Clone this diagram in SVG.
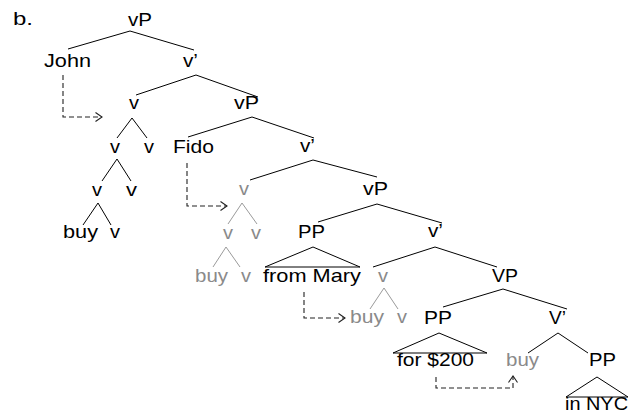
<svg xmlns="http://www.w3.org/2000/svg" width="632" height="413" viewBox="0 0 632 413">
<defs>
<style>
text{font-family:"Liberation Sans",Arial,sans-serif;font-size:18.5px;fill:#000}
text.g{fill:#8a8a8a}
.e{stroke:#000;stroke-width:1;fill:none}
.eg{stroke:#9a9a9a;stroke-width:1;fill:none}
.mv{stroke:#222;stroke-width:1.1;fill:none;stroke-dasharray:5,3;marker-end:url(#ah)}
</style>
<marker id="ah" markerUnits="userSpaceOnUse" markerWidth="9" markerHeight="11" refX="7" refY="5" orient="auto">
<path d="M0.5,0.5 L7,5 L0.5,9.5" fill="none" stroke="#222" stroke-width="1.1"/>
</marker>
</defs>
<rect width="632" height="413" fill="#fff"/>
<g id="connectors">
<path class="e" d="M130,31 L68,49 M130,31 L194,50"/>
<path class="e" d="M196,75 L136,95 M196,75 L258,97"/>
<path class="e" d="M252,117 L188,137 M252,117 L314,138"/>
<path class="e" d="M132,118 L117,138 M132,118 L147,138"/>
<path class="e" d="M117,159 L102,181 M117,159 L131,181"/>
<path class="e" d="M98,203 L83,225 M98,203 L111,225"/>
<path class="e" d="M313,160 L250,180 M313,160 L377,177"/>
<path class="e" d="M377,204 L318,222 M377,204 L442,223"/>
<path class="e" d="M313,247 L265,267 L360,267 Z"/>
<path class="e" d="M435,247 L373,267 M435,247 L497,267"/>
<path class="e" d="M503,289 L443,307 M503,289 L567,309"/>
<path class="e" d="M439,333 L393,353 L487,353 Z"/>
<path class="e" d="M558,333 L528,353 M558,333 L588,353"/>
<path class="e" d="M597,377 L566,397 L628,397 Z"/>
<path class="eg" d="M242,203 L228,224 M242,203 L257,224"/>
<path class="eg" d="M226,247 L213,267 M226,247 L240,267"/>
<path class="eg" d="M384,288 L370,309 M384,288 L398,309"/>
<path class="mv" d="M63,75 V117 H102"/>
<path class="mv" d="M187,163 V206 H227"/>
<path class="mv" d="M304,292 V318 H345"/>
<path class="mv" d="M436,377 V388 H513 V376"/>
</g>
<g id="label-b"><text x="13" y="25" textLength="20" lengthAdjust="spacingAndGlyphs">b.</text></g>
<g id="vP1"><text x="128" y="26" textLength="24" lengthAdjust="spacingAndGlyphs">vP</text></g>
<g id="John"><text x="44" y="67" textLength="47" lengthAdjust="spacingAndGlyphs">John</text></g>
<g id="vbar1"><text x="183" y="67" textLength="15" lengthAdjust="spacingAndGlyphs">v’</text></g>
<g id="v1"><text x="129" y="109" textLength="10" lengthAdjust="spacingAndGlyphs">v</text></g>
<g id="vP2"><text x="234" y="109" textLength="25" lengthAdjust="spacingAndGlyphs">vP</text></g>
<g id="v1a"><text x="110" y="153" textLength="10" lengthAdjust="spacingAndGlyphs">v</text></g>
<g id="v1b"><text x="144" y="153" textLength="10" lengthAdjust="spacingAndGlyphs">v</text></g>
<g id="Fido"><text x="173" y="153" textLength="41" lengthAdjust="spacingAndGlyphs">Fido</text></g>
<g id="vbar2"><text x="300" y="152" textLength="15" lengthAdjust="spacingAndGlyphs">v’</text></g>
<g id="v1c"><text x="92" y="196" textLength="10" lengthAdjust="spacingAndGlyphs">v</text></g>
<g id="v1d"><text x="126" y="196" textLength="11" lengthAdjust="spacingAndGlyphs">v</text></g>
<g id="v2"><text class="g" x="239" y="195" textLength="10" lengthAdjust="spacingAndGlyphs">v</text></g>
<g id="vP3"><text x="363" y="195" textLength="25" lengthAdjust="spacingAndGlyphs">vP</text></g>
<g id="buy1"><text x="63" y="238" textLength="35" lengthAdjust="spacingAndGlyphs">buy</text></g>
<g id="v1e"><text x="110" y="238" textLength="10" lengthAdjust="spacingAndGlyphs">v</text></g>
<g id="v2a"><text class="g" x="223" y="239" textLength="10" lengthAdjust="spacingAndGlyphs">v</text></g>
<g id="v2b"><text class="g" x="251" y="239" textLength="10" lengthAdjust="spacingAndGlyphs">v</text></g>
<g id="PP1"><text x="298" y="238" textLength="27" lengthAdjust="spacingAndGlyphs">PP</text></g>
<g id="vbar3"><text x="428" y="237" textLength="15" lengthAdjust="spacingAndGlyphs">v’</text></g>
<g id="buy2"><text class="g" x="195" y="282" textLength="33" lengthAdjust="spacingAndGlyphs">buy</text></g>
<g id="v2c"><text class="g" x="241" y="282" textLength="10" lengthAdjust="spacingAndGlyphs">v</text></g>
<g id="fromMary"><text x="263" y="282" textLength="98" lengthAdjust="spacingAndGlyphs">from Mary</text></g>
<g id="v3"><text class="g" x="378" y="282" textLength="10" lengthAdjust="spacingAndGlyphs">v</text></g>
<g id="VP"><text x="492" y="282" textLength="26" lengthAdjust="spacingAndGlyphs">VP</text></g>
<g id="buy3"><text class="g" x="350" y="323" textLength="34" lengthAdjust="spacingAndGlyphs">buy</text></g>
<g id="v3a"><text class="g" x="397" y="323" textLength="10" lengthAdjust="spacingAndGlyphs">v</text></g>
<g id="PP2"><text x="424" y="324" textLength="28" lengthAdjust="spacingAndGlyphs">PP</text></g>
<g id="Vbar"><text x="549" y="324" textLength="17" lengthAdjust="spacingAndGlyphs">V’</text></g>
<g id="for200"><text x="397" y="366" textLength="77" lengthAdjust="spacingAndGlyphs">for $200</text></g>
<g id="buy4"><text class="g" x="506" y="366" textLength="33" lengthAdjust="spacingAndGlyphs">buy</text></g>
<g id="PP3"><text x="589" y="366" textLength="27" lengthAdjust="spacingAndGlyphs">PP</text></g>
<g id="inNYC"><text x="565" y="410" textLength="63" lengthAdjust="spacingAndGlyphs">in NYC</text></g>
</svg>
